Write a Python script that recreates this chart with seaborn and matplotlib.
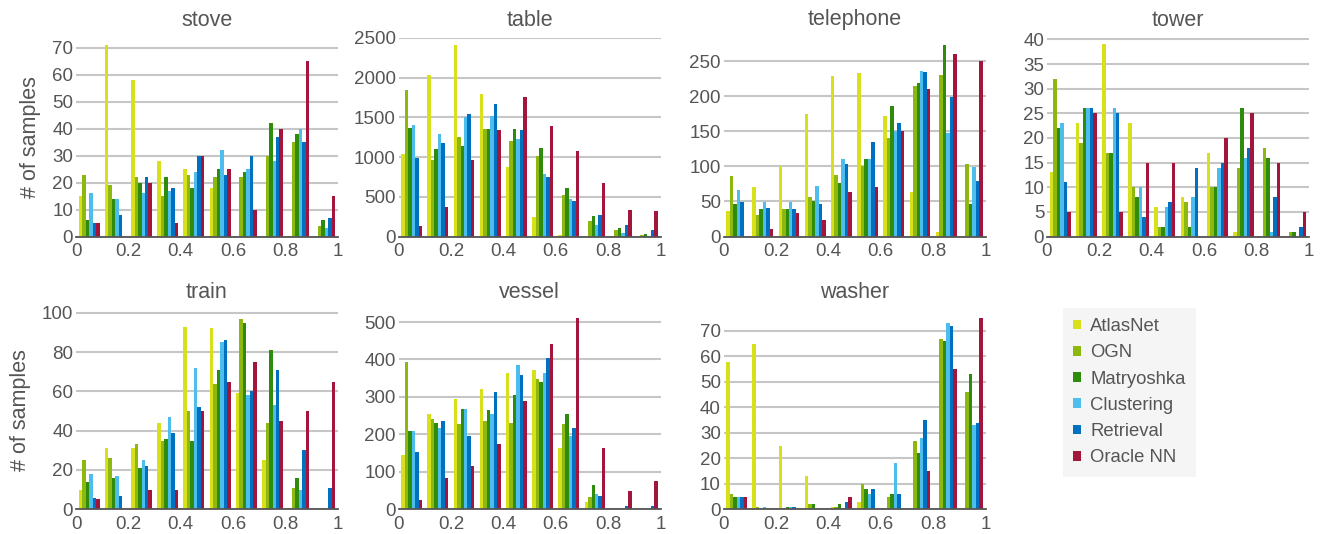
import matplotlib
matplotlib.use("Agg")
import matplotlib.pyplot as plt
from matplotlib.patches import Patch
import pandas as pd
import seaborn as sns

# Histogram counts over 10 equal-width bins of [0, 1], one list per method
methods = ["AtlasNet", "OGN", "Matryoshka", "Clustering", "Retrieval", "Oracle NN"]
colors = ["#d8e01b", "#8cb80f", "#2e8b0b", "#4cbdec", "#0070c0", "#a3153a"]

stove = {
    "AtlasNet":   [15, 71, 58, 28, 25, 18, 0, 0, 0, 0],
    "OGN":        [23, 19, 22, 15, 23, 22, 22, 30, 35, 4],
    "Matryoshka": [6, 14, 20, 22, 18, 25, 24, 42, 38, 6],
    "Clustering": [16, 14, 16, 17, 24, 32, 25, 28, 40, 3],
    "Retrieval":  [5, 8, 22, 18, 30, 23, 30, 37, 35, 7],
    "Oracle NN":  [5, 0, 20, 5, 30, 25, 10, 40, 65, 15],
}
table = {
    "AtlasNet":   [1034, 2029, 2408, 1790, 870, 240, 25, 0, 0, 8],
    "OGN":        [1840, 958, 1248, 1349, 1197, 1008, 517, 189, 76, 20],
    "Matryoshka": [1361, 1097, 1134, 1349, 1349, 1109, 605, 252, 101, 28],
    "Clustering": [1399, 1286, 1500, 1513, 1223, 781, 466, 151, 50, 10],
    "Retrieval":  [983, 1172, 1538, 1664, 1336, 744, 441, 277, 139, 88],
    "Oracle NN":  [126, 366, 958, 1336, 1752, 1387, 1071, 668, 328, 315],
}
telephone = {
    "AtlasNet":   [37, 71, 100, 174, 229, 233, 171, 64, 6, 0],
    "OGN":        [86, 30, 39, 56, 87, 100, 141, 214, 230, 103],
    "Matryoshka": [47, 39, 39, 50, 76, 110, 186, 219, 273, 47],
    "Clustering": [66, 49, 49, 72, 111, 111, 150, 236, 147, 99],
    "Retrieval":  [49, 40, 39, 47, 104, 134, 161, 234, 199, 79],
    "Oracle NN":  [0, 10, 34, 24, 64, 70, 150, 210, 260, 250],
}
tower = {
    "AtlasNet":   [13, 23, 39, 23, 6, 8, 17, 1, 0, 0],
    "OGN":        [32, 19, 17, 10, 2, 7, 10, 14, 18, 1],
    "Matryoshka": [22, 26, 17, 8, 2, 2, 10, 26, 16, 1],
    "Clustering": [23, 26, 26, 10, 6, 8, 14, 16, 1, 0],
    "Retrieval":  [11, 26, 25, 4, 7, 14, 15, 18, 8, 2],
    "Oracle NN":  [5, 25, 5, 15, 15, 0, 20, 25, 15, 5],
}
train = {
    "AtlasNet":   [10, 31, 31, 44, 93, 92, 59, 25, 0, 0],
    "OGN":        [25, 26, 33, 35, 50, 64, 97, 44, 11, 0],
    "Matryoshka": [14, 16, 21, 36, 35, 71, 95, 81, 16, 0],
    "Clustering": [18, 17, 25, 47, 72, 85, 58, 53, 10, 0],
    "Retrieval":  [6, 7, 22, 39, 52, 86, 60, 71, 30, 11],
    "Oracle NN":  [5, 0, 10, 10, 50, 65, 75, 45, 50, 65],
}
vessel = {
    "AtlasNet":   [145, 254, 294, 321, 364, 372, 164, 20, 0, 0],
    "OGN":        [393, 241, 228, 236, 230, 348, 228, 33, 2, 0],
    "Matryoshka": [209, 230, 268, 265, 305, 340, 254, 65, 0, 0],
    "Clustering": [209, 217, 268, 254, 385, 364, 196, 41, 0, 0],
    "Retrieval":  [153, 236, 196, 313, 358, 404, 217, 36, 9, 9],
    "Oracle NN":  [25, 84, 116, 174, 289, 441, 511, 164, 49, 76],
}
washer = {
    "AtlasNet":   [58, 65, 25, 13, 1, 3, 0, 0, 0, 0],
    "OGN":        [6, 1, 0, 2, 1, 10, 5, 27, 67, 46],
    "Matryoshka": [5, 0, 1, 2, 2, 8, 6, 22, 66, 53],
    "Clustering": [5, 1, 1, 0, 0, 6, 18, 28, 73, 33],
    "Retrieval":  [5, 0, 1, 0, 3, 8, 6, 35, 72, 34],
    "Oracle NN":  [5, 0, 0, 0, 5, 0, 0, 15, 55, 75],
}

x_tick_labels = ["0", "0.2", "0.4", "0.6", "0.8", "1"]

# name, counts, y upper limit, y tick step, highest y tick
panels = [
    ("stove", stove, 73.7, 10, 70),
    ("table", table, 2500, 500, 2500),
    ("telephone", telephone, 282.8, 50, 250),
    ("tower", tower, 40.3, 5, 40),
    ("train", train, 101, 20, 100),
    ("vessel", vessel, 530, 100, 500),
    ("washer", washer, 77.9, 10, 70),
]
lefts = [76, 398.5, 723.5, 1047]
W, H = 1320, 534

sns.set_style("white")
plt.rcParams["font.family"] = ["Liberation Sans", "DejaVu Sans"]
text_color = "#555555"

fig = plt.figure(figsize=(W / 100, H / 100), dpi=100)

for i, (name, counts, ytop, ystep, ymax_tick) in enumerate(panels):
    row, col = divmod(i, 4)
    left = lefts[col]
    width = 262
    bottom_px = 236.5 if row == 0 else 509.3
    ax = fig.add_axes([left / W, 1 - bottom_px / H, width / W, 198.5 / H])

    df = pd.DataFrame(
        [(b, m, counts[m][b]) for m in methods for b in range(10)],
        columns=["bin", "method", "count"],
    )
    sns.barplot(
        data=df, x="bin", y="count", hue="method", hue_order=methods,
        palette=colors, saturation=1, width=0.8, legend=False, ax=ax,
        errorbar=None, linewidth=0,
    )
    ax.set_xlim(-0.5, 9.5)
    ax.set_ylim(0, ytop)
    ax.set_yticks(list(range(0, ymax_tick + 1, ystep)))
    ax.set_xticks([-0.5, 1.5, 3.5, 5.5, 7.5, 9.5])
    ax.set_xticklabels(x_tick_labels)
    ax.tick_params(axis="both", length=0, labelsize=13.5, colors=text_color)
    ax.tick_params(axis="y", pad=2)
    ax.tick_params(axis="x", pad=5)
    ax.yaxis.grid(True, color="#c6c6c6", linewidth=1.5)
    ax.set_axisbelow(True)
    for s in ("top", "right", "left"):
        ax.spines[s].set_visible(False)
    ax.spines["bottom"].set_color("#555555")
    ax.spines["bottom"].set_linewidth(1.3)
    ax.set_xlabel("")
    ax.set_ylabel("# of samples" if col == 0 else "", fontsize=15.5,
                  color=text_color, labelpad=8)
    ax.set_title(name, fontsize=15.5, color=text_color, pad=9)

handles = [Patch(facecolor=c, edgecolor="none") for c in colors]
leg = fig.legend(
    handles, methods, loc="upper left",
    bbox_to_anchor=(1063 / W, 1 - 308 / H),
    frameon=True, fontsize=13.3, handlelength=0.43, handleheight=0.43,
    handletextpad=0.5, labelspacing=0.5, borderpad=0.55, borderaxespad=0,
    labelcolor=text_color, fancybox=False,
)
leg.get_frame().set_facecolor("#f3f3f3")
leg.get_frame().set_edgecolor("none")

fig.savefig("out.png", dpi=100, facecolor="white")
